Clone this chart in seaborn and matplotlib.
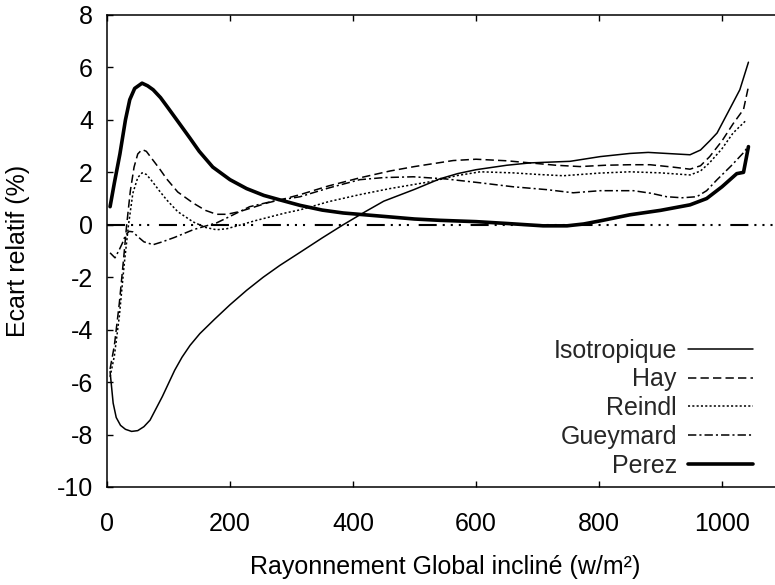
import numpy as np
import pandas as pd
import matplotlib
matplotlib.use("Agg")
import matplotlib.pyplot as plt
import seaborn as sns

# ---- data ----
iso_x = [5, 10, 15, 22, 30, 40, 50, 60, 70, 80, 90, 100, 110, 122, 135, 151, 175, 200, 227, 254, 281, 314, 350, 384, 420, 450, 500, 541, 570, 600, 650, 688, 753, 802, 850, 880, 910, 948, 965, 980, 992, 1010, 1029, 1043]
iso_y = [-5.6, -6.8, -7.35, -7.65, -7.8, -7.88, -7.85, -7.7, -7.45, -7.0, -6.55, -6.05, -5.55, -5.05, -4.6, -4.15, -3.6, -3.05, -2.5, -2.0, -1.55, -1.05, -0.5, 0.0, 0.5, 0.9, 1.35, 1.75, 1.95, 2.1, 2.27, 2.36, 2.42, 2.6, 2.72, 2.76, 2.72, 2.67, 2.85, 3.2, 3.5, 4.3, 5.15, 6.2]

hay_x = [5, 12, 20, 27, 32, 38, 44, 50, 57, 64, 72, 85, 97, 115, 140, 160, 178, 195, 215, 240, 260, 290, 314, 360, 411, 460, 500, 563, 600, 650, 688, 730, 769, 810, 850, 883, 920, 948, 965, 980, 1000, 1018, 1035, 1043]
hay_y = [-5.5, -4.6, -3.0, -1.3, 0.0, 1.3, 2.2, 2.7, 2.87, 2.8, 2.55, 2.15, 1.75, 1.25, 0.83, 0.55, 0.4, 0.4, 0.5, 0.68, 0.83, 1.0, 1.15, 1.48, 1.79, 2.05, 2.22, 2.45, 2.5, 2.44, 2.36, 2.27, 2.22, 2.27, 2.29, 2.29, 2.2, 2.12, 2.25, 2.6, 3.2, 3.85, 4.4, 5.27]

rei_x = [5, 12, 20, 28, 35, 42, 50, 57, 64, 72, 85, 97, 115, 140, 160, 178, 195, 215, 240, 260, 290, 314, 360, 411, 460, 525, 570, 607, 660, 700, 742, 800, 850, 900, 948, 965, 980, 1000, 1018, 1040]
rei_y = [-5.8, -5.0, -3.5, -1.5, 0.0, 1.2, 1.8, 1.98, 1.92, 1.7, 1.3, 0.95, 0.5, 0.11, -0.1, -0.19, -0.15, -0.02, 0.15, 0.27, 0.45, 0.57, 0.88, 1.15, 1.38, 1.64, 1.88, 2.02, 1.98, 1.92, 1.87, 1.97, 2.02, 1.98, 1.9, 2.05, 2.37, 2.9, 3.5, 4.0]

gue_x = [5, 13, 20, 25, 30, 36, 42, 50, 60, 75, 90, 110, 140, 160, 178, 200, 232, 270, 314, 360, 411, 450, 498, 550, 607, 660, 715, 758, 802, 856, 885, 910, 935, 959, 975, 992, 1015, 1035, 1043]
gue_y = [-1.07, -1.26, -0.95, -0.7, -0.4, -0.25, -0.27, -0.45, -0.65, -0.76, -0.65, -0.48, -0.19, -0.05, 0.07, 0.32, 0.69, 0.9, 1.07, 1.4, 1.72, 1.8, 1.83, 1.75, 1.6, 1.45, 1.34, 1.22, 1.3, 1.3, 1.2, 1.07, 1.03, 1.07, 1.3, 1.72, 2.25, 2.75, 3.0]

per_x = [5, 12, 21, 30, 37, 45, 57, 66, 75, 87, 98, 115, 135, 150, 172, 200, 227, 255, 281, 314, 350, 384, 450, 500, 541, 600, 650, 709, 748, 775, 802, 850, 900, 948, 975, 1000, 1024, 1035, 1043]
per_y = [0.69, 1.6, 2.7, 4.0, 4.77, 5.2, 5.4, 5.3, 5.15, 4.85, 4.5, 3.95, 3.3, 2.8, 2.2, 1.72, 1.38, 1.12, 0.95, 0.74, 0.56, 0.45, 0.32, 0.22, 0.17, 0.12, 0.05, -0.04, -0.04, 0.03, 0.15, 0.38, 0.55, 0.76, 1.0, 1.45, 1.95, 2.0, 2.98]

labels = ["Isotropique", "Hay", "Reindl", "Gueymard", "Perez"]
x_ticks = [0, 200, 400, 600, 800, 1000]
y_ticks = [-10, -8, -6, -4, -2, 0, 2, 4, 6, 8]

# ---- style ----
sns.set_theme(style="ticks")
plt.rcParams["font.family"] = ["Liberation Sans", "DejaVu Sans"]
plt.rcParams["lines.scale_dashes"] = False

FS = 18

fig = plt.figure(figsize=(7.75, 5.85), dpi=100)
ax = fig.add_axes([107 / 775, 98 / 585, 676.5 / 775, 472 / 585])

series = [(iso_x, iso_y), (hay_x, hay_y), (rei_x, rei_y), (gue_x, gue_y), (per_x, per_y)]
styles = [
    dict(lw=1.1, ls="-"),
    dict(lw=1.1, ls=(0, (6, 3))),
    dict(lw=1.1, ls=(0, (1.5, 1.6))),
    dict(lw=1.1, ls=(0, (6, 2.2, 1.5, 2.2))),
    dict(lw=2.6, ls="-"),
]

ax.axhline(0, color="black", lw=1.5, ls=(0, (13, 4.3, 1.5, 4.3, 1.5, 4.3, 1.5, 7)), zorder=1)

for (xs, ys), lab, st in zip(series, labels, styles):
    df = pd.DataFrame({"x": xs, "y": ys})
    sns.lineplot(data=df, x="x", y="y", ax=ax, color="black", label=lab,
                 errorbar=None, sort=False, zorder=2, **st)

ax.set_xlim(0, 1100)
ax.set_ylim(-10, 8)
ax.set_xticks(x_ticks)
ax.set_yticks(y_ticks)
ax.set_xticklabels([str(v) for v in x_ticks])
ax.set_yticklabels([str(v) for v in y_ticks])

for s in ["left", "bottom", "top", "right"]:
    ax.spines[s].set_visible(True)
    ax.spines[s].set_linewidth(1.1)
    ax.spines[s].set_color("black")

ax.tick_params(axis="both", direction="in", length=4.5, width=1.0, colors="black",
               labelsize=FS, top=True, right=True)
ax.tick_params(axis="x", pad=18)
ax.tick_params(axis="y", pad=10)

ax.set_xlabel("Rayonnement Global incliné (w/m²)", fontsize=FS, labelpad=14, color="black")
ax.set_ylabel("Ecart relatif (%)", fontsize=FS, labelpad=19, color="black")

leg = ax.legend(loc="lower right", bbox_to_anchor=(0.955, 0.02), frameon=False,
                markerfirst=False, fontsize=FS, handlelength=2.6, handletextpad=0.45,
                labelspacing=0.19, borderpad=0, borderaxespad=0)

fig.savefig("out.png", dpi=100)
